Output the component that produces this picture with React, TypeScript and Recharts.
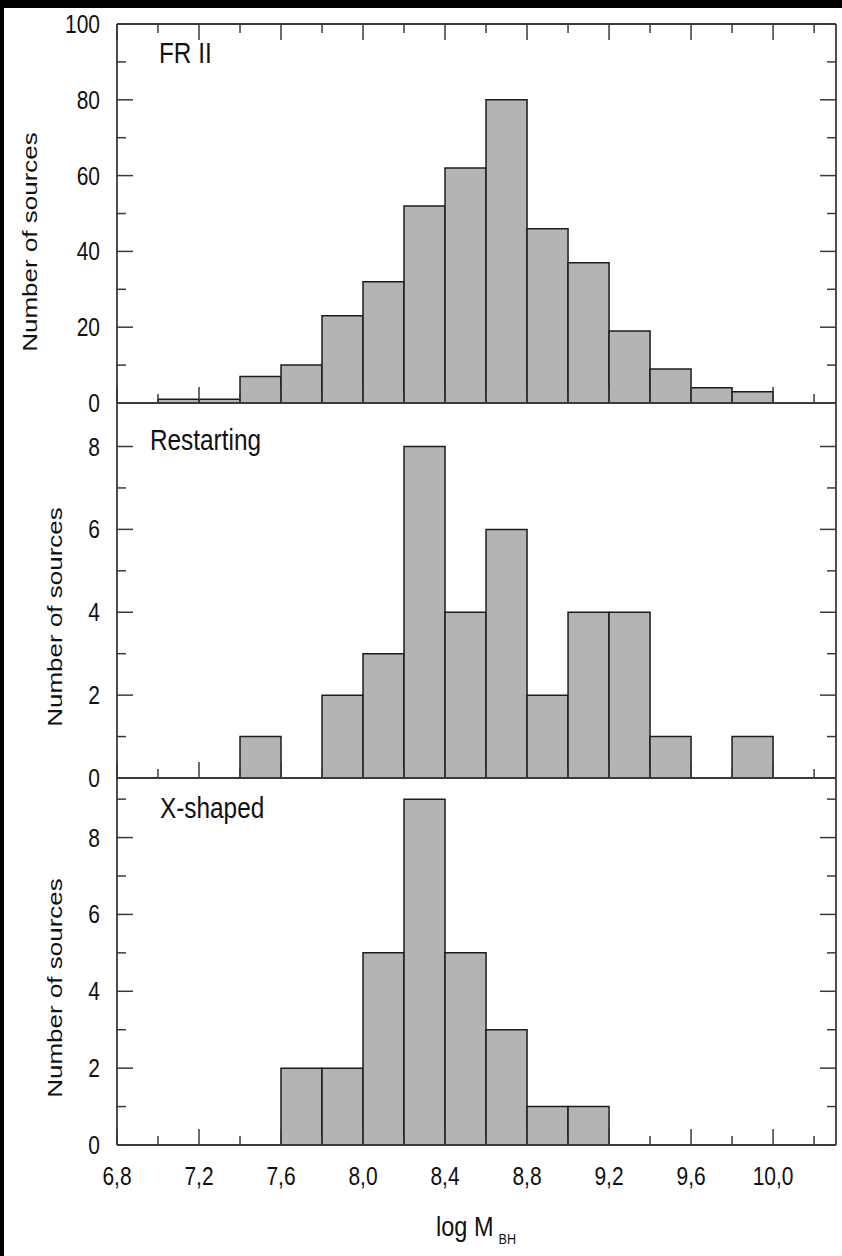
import React from 'react';
import { ComposedChart, Bar, XAxis, YAxis } from 'recharts';

// histogram bins of log M_BH (0.2 wide), centres
const binCenters = [7.1, 7.3, 7.5, 7.7, 7.9, 8.1, 8.3, 8.5, 8.7, 8.9, 9.1, 9.3, 9.5, 9.7, 9.9];
const frIICounts = [1, 1, 7, 10, 23, 32, 52, 62, 80, 46, 37, 19, 9, 4, 3];
const restartingCounts = [0, 0, 1, 0, 2, 3, 8, 4, 6, 2, 4, 4, 1, 0, 1];
const xShapedCounts = [0, 0, 0, 2, 2, 5, 9, 5, 3, 1, 1, 0, 0, 0, 0];

const xMajorTicks = [6.8, 7.2, 7.6, 8.0, 8.4, 8.8, 9.2, 9.6, 10.0];
const xMinorTicks = [7.0, 7.4, 7.8, 8.2, 8.6, 9.0, 9.4, 9.8, 10.2];
const xTickLabels = ['6,8', '7,2', '7,6', '8,0', '8,4', '8,8', '9,2', '9,6', '10,0'];

const frIIYMajor = [0, 20, 40, 60, 80, 100];
const frIIYMinor = [10, 30, 50, 70, 90];
const smallYMajor = [0, 2, 4, 6, 8];
const restartingYMinor = [1, 3, 5, 7];
const xShapedYMinor = [1, 3, 5, 7, 9];

const FONT = "'Liberation Sans', Arial, Helvetica, sans-serif";
const INK = '#111';
const AXIS = '#3a3a3a';
const SQUASH = 0.84;
const MAJOR_LEN = 16;
const MINOR_LEN = 9;

const xTicks = [...xMajorTicks, ...xMinorTicks].sort((a, b) => a - b);

const NarrowText = ({ x, y, size, anchor = 'start', children }: any) => (
  <g transform={`translate(${x},${y}) scale(${SQUASH},1)`}>
    <text x={0} y={0} textAnchor={anchor} fontSize={size} fontFamily={FONT} fill={INK}>
      {children}
    </text>
  </g>
);

const BottomTick = ({ x, y, payload, showLabels }: any) => {
  const i = xMajorTicks.indexOf(payload.value);
  const len = i >= 0 ? MAJOR_LEN : MINOR_LEN;
  return (
    <g>
      <line x1={x} y1={y} x2={x} y2={y - len} stroke={AXIS} strokeWidth={1.5} />
      {showLabels && i >= 0 && (
        <NarrowText x={x} y={y + 40} size={25} anchor="middle">{xTickLabels[i]}</NarrowText>
      )}
    </g>
  );
};

const TopTick = ({ x, y, payload }: any) => {
  const len = xMajorTicks.indexOf(payload.value) >= 0 ? MAJOR_LEN : MINOR_LEN;
  return <line x1={x} y1={y} x2={x} y2={y + len} stroke={AXIS} strokeWidth={1.5} />;
};

const LeftTick = ({ x, y, payload, majors }: any) => {
  const major = majors.includes(payload.value);
  return (
    <g>
      <line x1={x} y1={y} x2={x + (major ? MAJOR_LEN : MINOR_LEN)} y2={y} stroke={AXIS} strokeWidth={1.5} />
      {major && (
        <NarrowText x={x - 17} y={y + 9} size={25} anchor="end">{payload.value}</NarrowText>
      )}
    </g>
  );
};

const RightTick = ({ x, y, payload, majors }: any) => {
  const len = majors.includes(payload.value) ? MAJOR_LEN : MINOR_LEN;
  return <line x1={x} y1={y} x2={x - len} y2={y} stroke={AXIS} strokeWidth={1.5} />;
};

interface PanelProps {
  top: number;
  height: number;
  mTop: number;
  mBottom: number;
  counts: number[];
  yMax: number;
  yMajor: number[];
  yMinor: number[];
  topTicks?: boolean;
  xLabels?: boolean;
}

const Panel = ({ top, height, mTop, mBottom, counts, yMax, yMajor, yMinor, topTicks, xLabels }: PanelProps) => {
  const data = binCenters.map((x, i) => ({ x, n: counts[i] }));
  const yTicks = [...yMajor, ...yMinor].sort((a, b) => a - b);
  const lineStyle = { stroke: AXIS, strokeWidth: 1.8 };
  return (
    <div style={{ position: 'absolute', left: 0, top, width: 842, height }}>
      <ComposedChart
        width={842}
        height={height}
        data={data}
        margin={{ top: mTop, right: 0, bottom: mBottom, left: 0 }}
        barCategoryGap={0}
        barGap={0}
      >
        <XAxis
          xAxisId="b"
          type="number"
          dataKey="x"
          domain={[6.8, 10.307]}
          allowDataOverflow
          ticks={xTicks}
          interval={0}
          height={1}
          tickSize={0}
          tickMargin={0}
          tickLine={false}
          axisLine={lineStyle}
          tick={(p: any) => <BottomTick {...p} showLabels={xLabels} />}
        />
        <XAxis
          xAxisId="t"
          orientation="top"
          type="number"
          dataKey="x"
          domain={[6.8, 10.307]}
          allowDataOverflow
          ticks={xTicks}
          interval={0}
          height={1}
          tickSize={0}
          tickMargin={0}
          tickLine={false}
          axisLine={lineStyle}
          tick={topTicks ? (p: any) => <TopTick {...p} /> : false}
        />
        <YAxis
          yAxisId="l"
          type="number"
          domain={[0, yMax]}
          allowDataOverflow
          ticks={yTicks}
          interval={0}
          width={117}
          tickSize={0}
          tickMargin={0}
          tickLine={false}
          axisLine={lineStyle}
          tick={(p: any) => <LeftTick {...p} majors={yMajor} />}
        />
        <YAxis
          yAxisId="r"
          orientation="right"
          type="number"
          domain={[0, yMax]}
          allowDataOverflow
          ticks={yTicks}
          interval={0}
          width={6}
          tickSize={0}
          tickMargin={0}
          tickLine={false}
          axisLine={lineStyle}
          tick={(p: any) => <RightTick {...p} majors={yMajor} />}
        />
        <Bar
          xAxisId="b"
          yAxisId="l"
          dataKey="n"
          fill="#b4b4b4"
          stroke="#1c1c1c"
          strokeWidth={1.5}
          isAnimationActive={false}
        />
      </ComposedChart>
    </div>
  );
};

const YTitle = ({ x, y }: any) => (
  <g transform={`translate(${x},${y}) scale(0.8,1) rotate(-90)`}>
    <text x={0} y={0} textAnchor="middle" fontSize={26} fontFamily={FONT} fill={INK}>
      Number of sources
    </text>
  </g>
);

export default function App() {
  return (
    <div style={{ position: 'absolute', left: 0, top: 0, width: 842, height: 1256, background: '#000', overflow: 'hidden' }}>
      <div style={{ position: 'absolute', left: 4, top: 8, width: 838, height: 1248, background: '#fff' }} />
      <Panel top={0} height={423} mTop={23} mBottom={19} counts={frIICounts} yMax={100}
        yMajor={frIIYMajor} yMinor={frIIYMinor} topTicks />
      <Panel top={383} height={415} mTop={19} mBottom={19} counts={restartingCounts} yMax={9.05}
        yMajor={smallYMajor} yMinor={restartingYMinor} />
      <Panel top={758} height={498} mTop={19} mBottom={110} counts={xShapedCounts} yMax={9.55}
        yMajor={smallYMajor} yMinor={xShapedYMinor} xLabels />
      <svg width={842} height={1256} style={{ position: 'absolute', left: 0, top: 0, pointerEvents: 'none' }}>
        <NarrowText x={159} y={63} size={29}>FR II</NarrowText>
        <NarrowText x={150} y={450} size={29}>Restarting</NarrowText>
        <NarrowText x={160} y={818} size={29}>X-shaped</NarrowText>
        <YTitle x={37} y={242} />
        <YTitle x={62} y={617} />
        <YTitle x={62} y={988} />
        <g transform="translate(436,1236) scale(0.84,1)">
          <text x={0} y={0} fontSize={28} fontFamily={FONT} fill={INK}>
            log M
            <tspan dx={6} dy={8} fontSize={15}>BH</tspan>
          </text>
        </g>
      </svg>
    </div>
  );
}
